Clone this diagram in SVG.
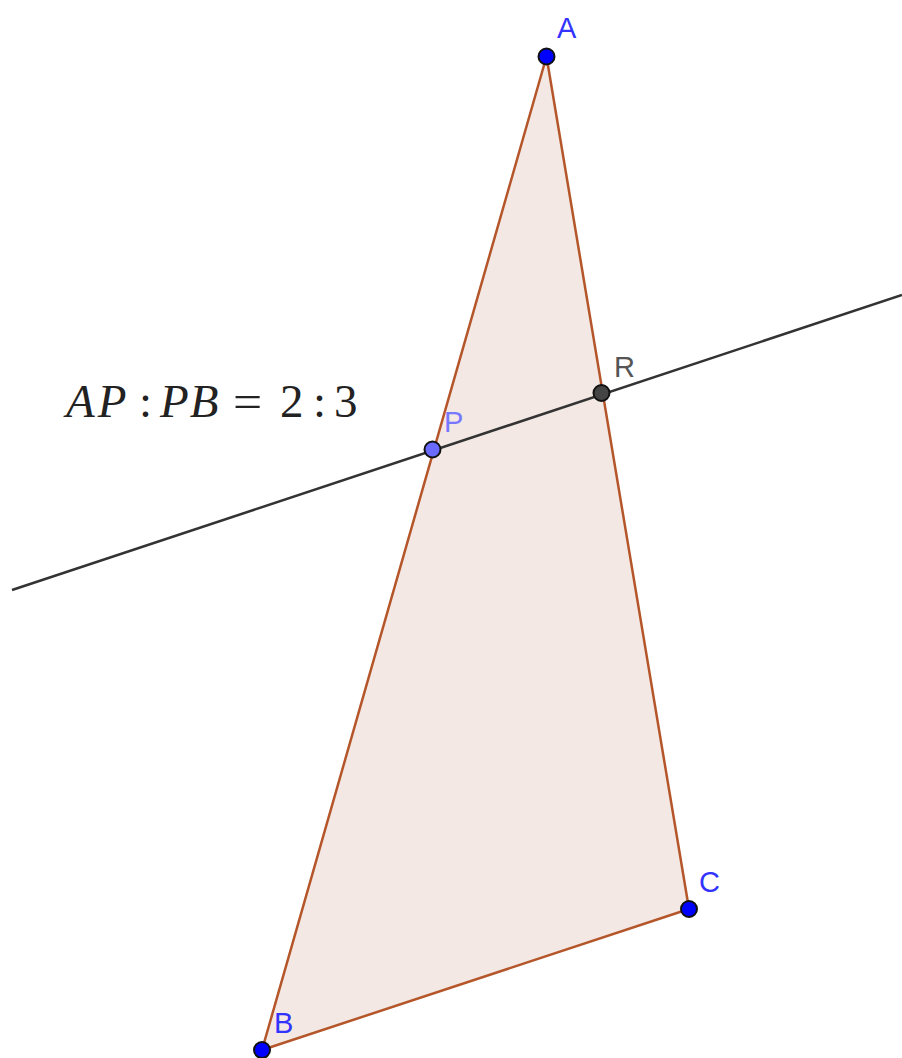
<svg xmlns="http://www.w3.org/2000/svg" width="902" height="1058" viewBox="0 0 902 1058">
<style>
.edge{stroke:#b4562a;stroke-width:2.5;fill:none;stroke-linecap:round}
.pt{stroke:#111;stroke-width:2}
.lbl{font-family:"Liberation Sans",Arial,sans-serif;font-size:29px}
.math{font-family:"Liberation Serif","Times New Roman",serif;font-size:47px;fill:#222}
.it{font-style:italic}
</style>
<rect width="902" height="1058" fill="#ffffff"/>
<g id="triangle">
<polygon points="546.5,56.5 262,1050 689,909" fill="#f3e8e3" stroke="none"/>
</g>
<g id="connectors">
<line class="edge" x1="546.5" y1="56.5" x2="262" y2="1050"/>
<line class="edge" x1="546.5" y1="56.5" x2="689" y2="909"/>
<line class="edge" x1="262" y1="1050" x2="689" y2="909"/>
<line x1="12" y1="590" x2="902" y2="295" stroke="#333" stroke-width="2.5"/>
</g>
<g id="node-A">
<circle class="pt" cx="546.5" cy="56.5" r="8" fill="#0000ff"/>
<text class="lbl" x="557" y="38" fill="#3333ff">A</text>
</g>
<g id="node-B">
<circle class="pt" cx="262" cy="1050" r="8" fill="#0000ff"/>
<text class="lbl" x="274" y="1033" fill="#3333ff">B</text>
</g>
<g id="node-C">
<circle class="pt" cx="689" cy="909" r="8" fill="#0000ff"/>
<text class="lbl" x="699" y="892" fill="#3333ff">C</text>
</g>
<g id="node-P">
<circle class="pt" cx="432.5" cy="449.5" r="8" fill="#6a6aff"/>
<text class="lbl" x="444" y="432" fill="#7777ff">P</text>
</g>
<g id="node-R">
<circle class="pt" cx="601.5" cy="393" r="8" fill="#444444"/>
<text class="lbl" x="614" y="377" fill="#555555">R</text>
</g>
<g id="label-ratio" class="math">
<text x="66" y="417" class="it" letter-spacing="3">AP</text>
<text x="139" y="417">:</text>
<text x="160" y="417" class="it" letter-spacing="1">PB</text>
<text x="0" y="0" transform="translate(233,417) scale(1.1,1)">=</text>
<text x="280" y="417">2</text>
<text x="313" y="417">:</text>
<text x="334" y="417">3</text>
</g>
</svg>
